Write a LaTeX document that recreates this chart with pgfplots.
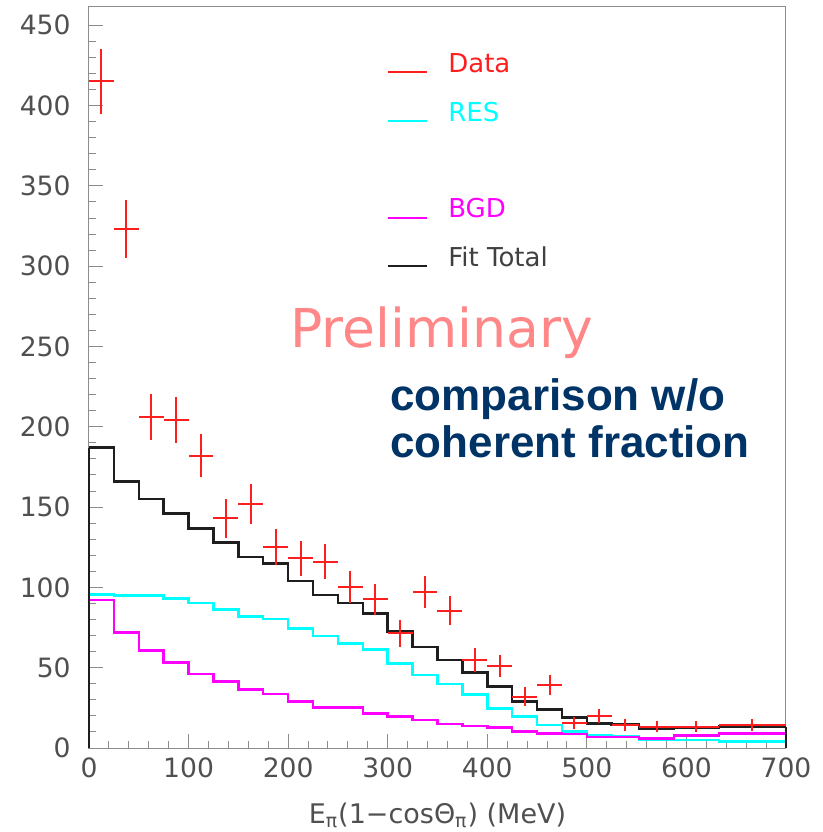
\documentclass[border=0pt]{standalone}
\usepackage{fontspec}
\setmainfont{DejaVu Sans}
\newfontfamily\arialfont{Liberation Sans}
\usepackage{pgfplots}
\usepackage{pgfplotstable}
\pgfplotsset{compat=1.18}

\definecolor{framec}{RGB}{140,140,140}
\definecolor{labc}{RGB}{80,80,80}
\definecolor{datac}{RGB}{255,30,30}
\definecolor{resc}{RGB}{0,255,255}
\definecolor{bgdc}{RGB}{255,0,255}
\definecolor{fitc}{RGB}{30,30,30}
\definecolor{prelc}{RGB}{255,135,135}
\definecolor{navy}{RGB}{0,51,102}

% measured counts: bin centre, content, half bin width, statistical error
\pgfplotstableread{
x      y      ex     ey
12.5   415    12.5   20.4
37.5   323    12.5   18.0
62.5   206    12.5   14.4
87.5   204    12.5   14.3
112.5  182    12.5   13.5
137.5  143    12.5   12.0
162.5  152    12.5   12.3
187.5  125    12.5   11.2
212.5  118    12.5   10.9
237.5  116    12.5   10.8
262.5  100.5  12.5   10.0
287.5  92.5   12.5   9.6
312.5  71.5   12.5   8.5
337.5  97     12.5   9.8
362.5  85.5   12.5   9.2
387.5  55     12.5   7.4
412.5  51     12.5   7.1
437.5  32     12.5   5.7
462.5  39     12.5   6.2
487.5  15.5   12.5   3.9
512.5  20     12.5   4.5
538.75 14.3   13.75  3.8
570    13.3   17.5   3.6
610    13.3   22.5   3.6
666.25 14.3   33.75  3.8
}\datatab

% histogram contents at left bin edges: RES, BGD, fit total
\pgfplotstableread{
x      res    bgd    fit
0      95.5   92.1   187
25     95     71.8   166
50     95     60.6   155
75     93     53.1   146
100    90.4   46     136.7
125    86.3   41.3   127.8
150    82     36.5   119
175    80.3   33.6   115
200    74.5   29     104
225    69.7   25.2   95.2
250    65.1   25.2   90.4
275    61.4   21.6   83.8
300    52.7   19.5   72.4
325    45.4   17.4   63
350    39.8   14.9   54.8
375    33.4   13.7   47.1
400    24.7   12.9   38.2
425    19.5   10.2   28.8
450    14.3   9.1    24.1
475    10.2   8.7    19.1
500    8.1    7.0    15.4
525    7.5    7.0    14.7
552.5  5.4    6.0    12.2
587.5  5.0    7.8    12.9
632.5  3.9    9.1    13.3
700    3.9    9.1    13.3
}\histtab

\begin{document}
\begin{tikzpicture}
\path[use as bounding box] (-44.5pt,-42pt) rectangle (367pt,374pt);
\begin{axis}[
  at={(0,0)}, anchor=south west,
  scale only axis, width=348.5pt, height=371pt,
  xmin=0, xmax=700, ymin=0, ymax=462,
  xtick={0,100,...,700}, ytick={0,50,...,450},
  minor x tick num=4, minor y tick num=4,
  tick align=inside, tick pos=left,
  major tick length=7pt, minor tick length=3.5pt,
  axis line style={framec, line width=0.5pt},
  every tick/.style={framec, line width=0.5pt},
  /pgf/number format/assume math mode=true,
  ticklabel style={font=\fontsize{13.3}{15}\selectfont, text=labc},
  yticklabel style={inner sep=0pt, xshift=-9pt},
  xticklabel style={inner sep=0pt, yshift=-4.5pt},
  xlabel={E\textsubscript{π}(1−cosΘ\textsubscript{π}) (MeV)},
  xlabel style={at={(axis description cs:0.5,0)}, anchor=base, yshift=-37.5pt,
    inner sep=0pt, font=\fontsize{13.5}{16}\selectfont, text=labc},
  clip=false,
]
% model components as step histograms
\addplot[const plot, resc, line width=1.25pt] table[x=x, y=res] {\histtab};
\addplot[const plot, bgdc, line width=1.25pt] table[x=x, y=bgd] {\histtab};
\addplot[const plot, fitc, line width=1.25pt] table[x=x, y=fit] {\histtab};
% vertical closing edges at 0 and 700 MeV
\addplot[resc, line width=1.25pt] coordinates {(700,3.9) (700,0)};
\addplot[bgdc, line width=1.25pt] coordinates {(700,9.1) (700,0)};
\addplot[fitc, line width=1.25pt] coordinates {(0,0) (0,187)};
\addplot[fitc, line width=1.25pt] coordinates {(700,13.3) (700,0)};
% data with horizontal bin-width and vertical statistical error bars
\addplot[draw=none, mark=none,
  error bars/.cd, x dir=both, x explicit, y dir=both, y explicit,
  error mark=none, error bar style={datac, line width=1pt}]
  table[x=x, y=y, x error=ex, y error=ey] {\datatab};

% legend
\draw[datac, line width=1pt] (axis cs:300.3,420.6) -- (axis cs:339.5,420.6);
\node[anchor=base west, inner sep=0pt, text=datac, font=\fontsize{13}{15}\selectfont] at (axis cs:360.5,420.6) {Data};
\draw[resc, line width=1pt] (axis cs:300.3,390.1) -- (axis cs:339.5,390.1);
\node[anchor=base west, inner sep=0pt, text=resc, font=\fontsize{13}{15}\selectfont] at (axis cs:360.5,390.1) {RES};
\draw[bgdc, line width=1pt] (axis cs:300.3,330.3) -- (axis cs:339.5,330.3);
\node[anchor=base west, inner sep=0pt, text=bgdc, font=\fontsize{13}{15}\selectfont] at (axis cs:360.5,330.3) {BGD};
\draw[fitc, line width=1pt] (axis cs:300.3,299.9) -- (axis cs:339.5,299.9);
\node[anchor=base west, inner sep=0pt, text=fitc!85, font=\fontsize{13}{15}\selectfont] at (axis cs:360.5,299.9) {Fit Total};

% annotations
\node[anchor=base west, inner sep=0pt, text=prelc, font=\fontsize{26.8}{30}\selectfont] at (axis cs:201.9,249.5) {Preliminary};
\node[anchor=base west, inner sep=0pt, text=navy, font=\arialfont\bfseries\fontsize{22}{26}\selectfont] at (axis cs:302.3,210.3) {comparison w/o};
\node[anchor=base west, inner sep=0pt, text=navy, font=\arialfont\bfseries\fontsize{22}{26}\selectfont] at (axis cs:302.3,181.0) {coherent fraction};
\end{axis}
\end{tikzpicture}
\end{document}
